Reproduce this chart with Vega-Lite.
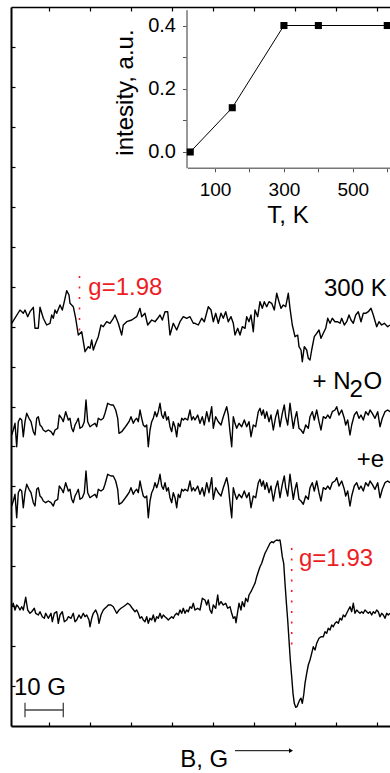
{
  "$schema": "https://vega.github.io/schema/vega-lite/v6.json",
  "width": 379,
  "height": 719,
  "autosize": {"type": "none"},
  "padding": {"left": 11, "top": 7, "right": 0, "bottom": 47},
  "background": "white",
  "config": {"view": {"stroke": null}, "font": "Liberation Sans", "axis": {"grid": false}},
  "datasets": {
    "spectra": [
      {"series":"300 K","B":0.7,"signal":402.7},{"series":"300 K","B":9,"signal":416},{"series":"300 K","B":12.3,"signal":412.7},{"series":"300 K","B":14,"signal":416},{"series":"300 K","B":16.7,"signal":409.3},{"series":"300 K","B":19,"signal":414.3},{"series":"300 K","B":22.3,"signal":418.7},{"series":"300 K","B":24,"signal":397.7},{"series":"300 K","B":27.3,"signal":397.7},{"series":"300 K","B":29,"signal":418.7},{"series":"300 K","B":32.3,"signal":407.7},{"series":"300 K","B":35.7,"signal":401},{"series":"300 K","B":39,"signal":402.7},{"series":"300 K","B":40.7,"signal":411},{"series":"300 K","B":42.3,"signal":407.7},{"series":"300 K","B":44,"signal":416},{"series":"300 K","B":45.7,"signal":412.7},{"series":"300 K","B":49,"signal":421},{"series":"300 K","B":51.3,"signal":416},{"series":"300 K","B":53.3,"signal":424.3},{"series":"300 K","B":55.7,"signal":435.3},{"series":"300 K","B":58,"signal":431},{"series":"300 K","B":59,"signal":422.7},{"series":"300 K","B":62.3,"signal":419.3},{"series":"300 K","B":64.7,"signal":407.7},{"series":"300 K","B":67.3,"signal":391},{"series":"300 K","B":70.7,"signal":394.3},{"series":"300 K","B":74,"signal":374.3},{"series":"300 K","B":77.3,"signal":379.3},{"series":"300 K","B":79,"signal":377.7},{"series":"300 K","B":80.7,"signal":386},{"series":"300 K","B":82.3,"signal":376},{"series":"300 K","B":84.7,"signal":382.7},{"series":"300 K","B":87.3,"signal":389.3},{"series":"300 K","B":90,"signal":401},{"series":"300 K","B":92.3,"signal":399.3},{"series":"300 K","B":95.7,"signal":404.3},{"series":"300 K","B":99,"signal":402.7},{"series":"300 K","B":102.3,"signal":407.7},{"series":"300 K","B":104,"signal":411},{"series":"300 K","B":107.3,"signal":402.7},{"series":"300 K","B":110.7,"signal":391},{"series":"300 K","B":112.3,"signal":401},{"series":"300 K","B":115.7,"signal":404.3},{"series":"300 K","B":120.7,"signal":406},{"series":"300 K","B":125.7,"signal":409.3},{"series":"300 K","B":129,"signal":417.7},{"series":"300 K","B":130.7,"signal":409.3},{"series":"300 K","B":134,"signal":412.7},{"series":"300 K","B":136.7,"signal":401},{"series":"300 K","B":140.7,"signal":406},{"series":"300 K","B":144,"signal":404.3},{"series":"300 K","B":146.7,"signal":407.7},{"series":"300 K","B":149,"signal":411},{"series":"300 K","B":151.3,"signal":406},{"series":"300 K","B":154,"signal":414.3},{"series":"300 K","B":156.7,"signal":414.3},{"series":"300 K","B":159,"signal":391},{"series":"300 K","B":162.3,"signal":402.7},{"series":"300 K","B":165.7,"signal":396},{"series":"300 K","B":169,"signal":404.3},{"series":"300 K","B":172.3,"signal":409.3},{"series":"300 K","B":175.7,"signal":407.7},{"series":"300 K","B":179,"signal":409.3},{"series":"300 K","B":182.3,"signal":402.7},
      {"series":"300 K","B":184,"signal":402.7},{"series":"300 K","B":187.3,"signal":401},{"series":"300 K","B":190.7,"signal":407.7},{"series":"300 K","B":193.3,"signal":404.3},{"series":"300 K","B":197.3,"signal":419.3},{"series":"300 K","B":200,"signal":416},{"series":"300 K","B":202.3,"signal":404.3},{"series":"300 K","B":204.7,"signal":412.7},{"series":"300 K","B":207.3,"signal":402.7},{"series":"300 K","B":210,"signal":412.7},{"series":"300 K","B":212.3,"signal":407.7},{"series":"300 K","B":214.7,"signal":414.3},{"series":"300 K","B":217.3,"signal":404.3},{"series":"300 K","B":220,"signal":409.3},{"series":"300 K","B":222.3,"signal":402.7},{"series":"300 K","B":224,"signal":391},{"series":"300 K","B":226.7,"signal":397.7},{"series":"300 K","B":229,"signal":391},{"series":"300 K","B":231.3,"signal":399.3},{"series":"300 K","B":234,"signal":397.7},{"series":"300 K","B":235.7,"signal":409.3},{"series":"300 K","B":238,"signal":404.3},{"series":"300 K","B":240,"signal":411},{"series":"300 K","B":242.3,"signal":394.3},{"series":"300 K","B":244,"signal":416},{"series":"300 K","B":246.7,"signal":409.3},{"series":"300 K","B":249,"signal":424.3},{"series":"300 K","B":251.3,"signal":417.7},{"series":"300 K","B":253.3,"signal":424.3},{"series":"300 K","B":255.7,"signal":419.3},{"series":"300 K","B":258,"signal":424.3},{"series":"300 K","B":260.7,"signal":422.7},{"series":"300 K","B":263.3,"signal":416},{"series":"300 K","B":265.7,"signal":432.7},{"series":"300 K","B":268,"signal":424.3},{"series":"300 K","B":270,"signal":417.7},{"series":"300 K","B":272.3,"signal":421},{"series":"300 K","B":274.7,"signal":419.3},{"series":"300 K","B":277.3,"signal":432.7},{"series":"300 K","B":279,"signal":417.7},{"series":"300 K","B":281.3,"signal":401},{"series":"300 K","B":284,"signal":389.3},{"series":"300 K","B":286.7,"signal":391},{"series":"300 K","B":288,"signal":379.3},{"series":"300 K","B":290,"signal":376},{"series":"300 K","B":291.3,"signal":364.3},{"series":"300 K","B":293.3,"signal":379.3},{"series":"300 K","B":295.7,"signal":376},{"series":"300 K","B":297.3,"signal":367.7},{"series":"300 K","B":299,"signal":366},{"series":"300 K","B":300.7,"signal":376},{"series":"300 K","B":303.3,"signal":389.3},{"series":"300 K","B":305.7,"signal":392.7},{"series":"300 K","B":308,"signal":396},{"series":"300 K","B":310,"signal":387.7},{"series":"300 K","B":312.3,"signal":392.7},{"series":"300 K","B":314.7,"signal":397.7},{"series":"300 K","B":316.7,"signal":407.7},{"series":"300 K","B":319,"signal":402.7},{"series":"300 K","B":321.3,"signal":407.7},{"series":"300 K","B":324,"signal":404.3},{"series":"300 K","B":326.7,"signal":404.3},{"series":"300 K","B":329,"signal":402.7},{"series":"300 K","B":330.7,"signal":407.7},{"series":"300 K","B":333.3,"signal":401},{"series":"300 K","B":335.7,"signal":404.3},{"series":"300 K","B":338,"signal":411},{"series":"300 K","B":340,"signal":406},{"series":"300 K","B":342.3,"signal":402.7},{"series":"300 K","B":344.7,"signal":411},{"series":"300 K","B":347.3,"signal":414.3},{"series":"300 K","B":350,"signal":404.3},{"series":"300 K","B":352.3,"signal":412.7},{"series":"300 K","B":354.7,"signal":412.7},{"series":"300 K","B":357.3,"signal":414.3},{"series":"300 K","B":360,"signal":417.7},{"series":"300 K","B":362.3,"signal":411},{"series":"300 K","B":365.7,"signal":399.3},{"series":"300 K","B":368,"signal":404.3},{"series":"300 K","B":370.7,"signal":401},{"series":"300 K","B":373.3,"signal":402.7},{"series":"300 K","B":376.7,"signal":399.3},{"series":"300 K","B":379,"signal":401},

      {"series":"N2O","B":0.7,"signal":291},{"series":"N2O","B":2.3,"signal":296},{"series":"N2O","B":4,"signal":302.7},{"series":"N2O","B":5.7,"signal":279.3},{"series":"N2O","B":7.3,"signal":304.3},{"series":"N2O","B":9,"signal":307.7},{"series":"N2O","B":10.7,"signal":306},{"series":"N2O","B":12.3,"signal":289.3},{"series":"N2O","B":14,"signal":304.3},{"series":"N2O","B":15.7,"signal":312.7},{"series":"N2O","B":18,"signal":307.7},{"series":"N2O","B":20,"signal":304.3},{"series":"N2O","B":22.3,"signal":294.3},{"series":"N2O","B":24,"signal":291},{"series":"N2O","B":25.7,"signal":307.7},{"series":"N2O","B":27.3,"signal":309.3},{"series":"N2O","B":29,"signal":301},{"series":"N2O","B":30.7,"signal":299.3},{"series":"N2O","B":32.3,"signal":296},{"series":"N2O","B":34.7,"signal":294.3},{"series":"N2O","B":37.3,"signal":296},{"series":"N2O","B":40,"signal":294.3},{"series":"N2O","B":42.3,"signal":291},{"series":"N2O","B":44,"signal":296},{"series":"N2O","B":46.7,"signal":297.7},{"series":"N2O","B":48.3,"signal":311},{"series":"N2O","B":50.7,"signal":307.7},{"series":"N2O","B":52.3,"signal":304.3},{"series":"N2O","B":54.7,"signal":314.3},{"series":"N2O","B":57.3,"signal":306},{"series":"N2O","B":59,"signal":307.7},{"series":"N2O","B":60.7,"signal":297.7},{"series":"N2O","B":62.3,"signal":294.3},{"series":"N2O","B":64,"signal":301},{"series":"N2O","B":65.7,"signal":304.3},{"series":"N2O","B":67.3,"signal":307.7},{"series":"N2O","B":69,"signal":297.7},{"series":"N2O","B":71.3,"signal":299.3},{"series":"N2O","B":73.3,"signal":304.3},{"series":"N2O","B":75,"signal":326},{"series":"N2O","B":76.7,"signal":304.3},{"series":"N2O","B":79,"signal":299.3},{"series":"N2O","B":81.3,"signal":301},{"series":"N2O","B":84,"signal":302.7},{"series":"N2O","B":85.7,"signal":299.3},{"series":"N2O","B":87.3,"signal":307.7},{"series":"N2O","B":90,"signal":306},{"series":"N2O","B":92.3,"signal":307.7},{"series":"N2O","B":94,"signal":312.7},{"series":"N2O","B":96.7,"signal":322.7},{"series":"N2O","B":100,"signal":321},{"series":"N2O","B":102.3,"signal":321},{"series":"N2O","B":104.7,"signal":316},{"series":"N2O","B":106.7,"signal":307.7},{"series":"N2O","B":108,"signal":292.7},{"series":"N2O","B":110.7,"signal":294.3},{"series":"N2O","B":113.3,"signal":297.7},{"series":"N2O","B":115.7,"signal":301},{"series":"N2O","B":118,"signal":304.3},{"series":"N2O","B":120,"signal":309.3},{"series":"N2O","B":122.3,"signal":302.7},{"series":"N2O","B":124,"signal":306},{"series":"N2O","B":125.7,"signal":307.7},{"series":"N2O","B":127.3,"signal":304.3},{"series":"N2O","B":129,"signal":316},{"series":"N2O","B":130.7,"signal":307.7},{"series":"N2O","B":132.3,"signal":301},{"series":"N2O","B":134,"signal":299.3},{"series":"N2O","B":135.7,"signal":301},{"series":"N2O","B":137.3,"signal":279.3},{"series":"N2O","B":139,"signal":296},{"series":"N2O","B":140.7,"signal":304.3},{"series":"N2O","B":142.3,"signal":307.7},{"series":"N2O","B":144,"signal":314.3},{"series":"N2O","B":145.7,"signal":309.3},{"series":"N2O","B":147.3,"signal":314.3},{"series":"N2O","B":149,"signal":322.7},{"series":"N2O","B":150.7,"signal":311},{"series":"N2O","B":152.3,"signal":307.7},{"series":"N2O","B":154,"signal":314.3},{"series":"N2O","B":155.7,"signal":306},{"series":"N2O","B":157.3,"signal":309.3},{"series":"N2O","B":159,"signal":299.3},{"series":"N2O","B":160.7,"signal":294.3},{"series":"N2O","B":162.3,"signal":304.3},{"series":"N2O","B":164,"signal":299.3},{"series":"N2O","B":165.7,"signal":289.3},{"series":"N2O","B":167.3,"signal":302.7},{"series":"N2O","B":169,"signal":299.3},{"series":"N2O","B":170.7,"signal":307.7},{"series":"N2O","B":172.3,"signal":306},{"series":"N2O","B":174,"signal":307.7},{"series":"N2O","B":176.7,"signal":306},{"series":"N2O","B":179,"signal":316},{"series":"N2O","B":180.7,"signal":306},{"series":"N2O","B":182.3,"signal":309.3},
      {"series":"N2O","B":184,"signal":306},{"series":"N2O","B":186.7,"signal":311},{"series":"N2O","B":189,"signal":302.7},{"series":"N2O","B":191.3,"signal":309.3},{"series":"N2O","B":193.3,"signal":301},{"series":"N2O","B":195.7,"signal":314.3},{"series":"N2O","B":198,"signal":304.3},{"series":"N2O","B":200.7,"signal":319.3},{"series":"N2O","B":202.3,"signal":297.7},{"series":"N2O","B":204.7,"signal":309.3},{"series":"N2O","B":207.3,"signal":304.3},{"series":"N2O","B":210,"signal":301},{"series":"N2O","B":212.3,"signal":309.3},{"series":"N2O","B":215.7,"signal":319.3},{"series":"N2O","B":217.3,"signal":311},{"series":"N2O","B":219,"signal":294.3},{"series":"N2O","B":220.7,"signal":279.3},{"series":"N2O","B":222.3,"signal":309.3},{"series":"N2O","B":224,"signal":302.7},{"series":"N2O","B":225.7,"signal":297.7},{"series":"N2O","B":228,"signal":302.7},{"series":"N2O","B":230.7,"signal":299.3},{"series":"N2O","B":233.3,"signal":306},{"series":"N2O","B":235.7,"signal":299.3},{"series":"N2O","B":238,"signal":304.3},{"series":"N2O","B":240,"signal":289.3},{"series":"N2O","B":242.3,"signal":301},{"series":"N2O","B":244.7,"signal":299.3},{"series":"N2O","B":247.3,"signal":314.3},{"series":"N2O","B":249,"signal":317.7},{"series":"N2O","B":250.7,"signal":311},{"series":"N2O","B":252.3,"signal":316},{"series":"N2O","B":254,"signal":307.7},{"series":"N2O","B":255.7,"signal":314.3},{"series":"N2O","B":258,"signal":304.3},{"series":"N2O","B":260,"signal":311},{"series":"N2O","B":262.3,"signal":296},{"series":"N2O","B":264.7,"signal":309.3},{"series":"N2O","B":266.7,"signal":316},{"series":"N2O","B":269,"signal":299.3},{"series":"N2O","B":271.3,"signal":312.7},{"series":"N2O","B":273.3,"signal":321},{"series":"N2O","B":274.7,"signal":309.3},{"series":"N2O","B":276.7,"signal":301},{"series":"N2O","B":279,"signal":322.7},{"series":"N2O","B":280.7,"signal":309.3},{"series":"N2O","B":282.3,"signal":297.7},{"series":"N2O","B":284,"signal":307.7},{"series":"N2O","B":285.7,"signal":314.3},{"series":"N2O","B":288,"signal":297.7},{"series":"N2O","B":290,"signal":296},{"series":"N2O","B":292.3,"signal":292.7},{"series":"N2O","B":294.7,"signal":301},{"series":"N2O","B":297.3,"signal":297.7},{"series":"N2O","B":299,"signal":309.3},{"series":"N2O","B":301.3,"signal":314.3},{"series":"N2O","B":303.3,"signal":306},{"series":"N2O","B":305.7,"signal":316},{"series":"N2O","B":308,"signal":304.3},{"series":"N2O","B":310,"signal":296},{"series":"N2O","B":312.3,"signal":309.3},{"series":"N2O","B":314.7,"signal":307.7},{"series":"N2O","B":316.7,"signal":311},{"series":"N2O","B":319,"signal":307.7},{"series":"N2O","B":321.3,"signal":314.3},{"series":"N2O","B":324,"signal":316},{"series":"N2O","B":325.7,"signal":319.3},{"series":"N2O","B":328,"signal":311},{"series":"N2O","B":330.7,"signal":316},{"series":"N2O","B":333.3,"signal":307.7},{"series":"N2O","B":334.7,"signal":301},{"series":"N2O","B":336.7,"signal":306},{"series":"N2O","B":339,"signal":291},{"series":"N2O","B":340.7,"signal":301},{"series":"N2O","B":343.3,"signal":311},{"series":"N2O","B":345.7,"signal":314.3},{"series":"N2O","B":348,"signal":307.7},{"series":"N2O","B":350,"signal":311},{"series":"N2O","B":352.3,"signal":306},{"series":"N2O","B":354.7,"signal":314.3},{"series":"N2O","B":357.3,"signal":311},{"series":"N2O","B":359,"signal":316},{"series":"N2O","B":361.3,"signal":312.7},{"series":"N2O","B":364,"signal":307.7},{"series":"N2O","B":366.7,"signal":314.3},{"series":"N2O","B":369,"signal":299.3},{"series":"N2O","B":371.3,"signal":307.7},{"series":"N2O","B":374,"signal":314.3},{"series":"N2O","B":376.7,"signal":316},{"series":"N2O","B":379,"signal":314.3},

      {"series":"+e","B":0.7,"signal":220},{"series":"+e","B":2.3,"signal":225},{"series":"+e","B":4,"signal":231.7},{"series":"+e","B":5.7,"signal":208.3},{"series":"+e","B":7.3,"signal":233.3},{"series":"+e","B":9,"signal":236.7},{"series":"+e","B":10.7,"signal":235},{"series":"+e","B":12.3,"signal":218.3},{"series":"+e","B":14,"signal":233.3},{"series":"+e","B":15.7,"signal":241.7},{"series":"+e","B":18,"signal":236.7},{"series":"+e","B":20,"signal":233.3},{"series":"+e","B":22.3,"signal":223.3},{"series":"+e","B":24,"signal":220},{"series":"+e","B":25.7,"signal":236.7},{"series":"+e","B":27.3,"signal":238.3},{"series":"+e","B":29,"signal":230},{"series":"+e","B":30.7,"signal":228.3},{"series":"+e","B":32.3,"signal":225},{"series":"+e","B":34.7,"signal":223.3},{"series":"+e","B":37.3,"signal":225},{"series":"+e","B":40,"signal":223.3},{"series":"+e","B":42.3,"signal":220},{"series":"+e","B":44,"signal":225},{"series":"+e","B":46.7,"signal":226.7},{"series":"+e","B":48.3,"signal":240},{"series":"+e","B":50.7,"signal":236.7},{"series":"+e","B":52.3,"signal":233.3},{"series":"+e","B":54.7,"signal":243.3},{"series":"+e","B":57.3,"signal":235},{"series":"+e","B":59,"signal":236.7},{"series":"+e","B":60.7,"signal":226.7},{"series":"+e","B":62.3,"signal":223.3},{"series":"+e","B":64,"signal":230},{"series":"+e","B":65.7,"signal":233.3},{"series":"+e","B":67.3,"signal":236.7},{"series":"+e","B":69,"signal":226.7},{"series":"+e","B":71.3,"signal":228.3},{"series":"+e","B":73.3,"signal":233.3},{"series":"+e","B":75,"signal":255},{"series":"+e","B":76.7,"signal":233.3},{"series":"+e","B":79,"signal":228.3},{"series":"+e","B":81.3,"signal":230},{"series":"+e","B":84,"signal":231.7},{"series":"+e","B":85.7,"signal":228.3},{"series":"+e","B":87.3,"signal":236.7},{"series":"+e","B":90,"signal":235},{"series":"+e","B":92.3,"signal":236.7},{"series":"+e","B":94,"signal":241.7},{"series":"+e","B":96.7,"signal":251.7},{"series":"+e","B":100,"signal":250},{"series":"+e","B":102.3,"signal":250},{"series":"+e","B":104.7,"signal":245},{"series":"+e","B":106.7,"signal":236.7},{"series":"+e","B":108,"signal":221.7},{"series":"+e","B":110.7,"signal":223.3},{"series":"+e","B":113.3,"signal":226.7},{"series":"+e","B":115.7,"signal":230},{"series":"+e","B":118,"signal":233.3},{"series":"+e","B":120,"signal":238.3},{"series":"+e","B":122.3,"signal":231.7},{"series":"+e","B":124,"signal":235},{"series":"+e","B":125.7,"signal":236.7},{"series":"+e","B":127.3,"signal":233.3},{"series":"+e","B":129,"signal":245},{"series":"+e","B":130.7,"signal":236.7},{"series":"+e","B":132.3,"signal":230},{"series":"+e","B":134,"signal":228.3},{"series":"+e","B":135.7,"signal":230},{"series":"+e","B":137.3,"signal":208.3},{"series":"+e","B":139,"signal":225},{"series":"+e","B":140.7,"signal":233.3},{"series":"+e","B":142.3,"signal":236.7},{"series":"+e","B":144,"signal":243.3},{"series":"+e","B":145.7,"signal":238.3},{"series":"+e","B":147.3,"signal":243.3},{"series":"+e","B":149,"signal":251.7},{"series":"+e","B":150.7,"signal":240},{"series":"+e","B":152.3,"signal":236.7},{"series":"+e","B":154,"signal":243.3},{"series":"+e","B":155.7,"signal":235},{"series":"+e","B":157.3,"signal":238.3},{"series":"+e","B":159,"signal":228.3},{"series":"+e","B":160.7,"signal":223.3},{"series":"+e","B":162.3,"signal":233.3},{"series":"+e","B":164,"signal":228.3},{"series":"+e","B":165.7,"signal":218.3},{"series":"+e","B":167.3,"signal":231.7},{"series":"+e","B":169,"signal":228.3},{"series":"+e","B":170.7,"signal":236.7},{"series":"+e","B":172.3,"signal":235},{"series":"+e","B":174,"signal":236.7},{"series":"+e","B":176.7,"signal":235},{"series":"+e","B":179,"signal":245},{"series":"+e","B":180.7,"signal":235},{"series":"+e","B":182.3,"signal":238.3},
      {"series":"+e","B":184,"signal":235},{"series":"+e","B":186.7,"signal":240},{"series":"+e","B":189,"signal":231.7},{"series":"+e","B":191.3,"signal":238.3},{"series":"+e","B":193.3,"signal":230},{"series":"+e","B":195.7,"signal":243.3},{"series":"+e","B":198,"signal":233.3},{"series":"+e","B":200.7,"signal":248.3},{"series":"+e","B":202.3,"signal":226.7},{"series":"+e","B":204.7,"signal":238.3},{"series":"+e","B":207.3,"signal":233.3},{"series":"+e","B":210,"signal":230},{"series":"+e","B":212.3,"signal":238.3},{"series":"+e","B":215.7,"signal":248.3},{"series":"+e","B":217.3,"signal":240},{"series":"+e","B":219,"signal":223.3},{"series":"+e","B":220.7,"signal":208.3},{"series":"+e","B":222.3,"signal":238.3},{"series":"+e","B":224,"signal":231.7},{"series":"+e","B":225.7,"signal":226.7},{"series":"+e","B":228,"signal":231.7},{"series":"+e","B":230.7,"signal":228.3},{"series":"+e","B":233.3,"signal":235},{"series":"+e","B":235.7,"signal":228.3},{"series":"+e","B":238,"signal":233.3},{"series":"+e","B":240,"signal":218.3},{"series":"+e","B":242.3,"signal":230},{"series":"+e","B":244.7,"signal":228.3},{"series":"+e","B":247.3,"signal":243.3},{"series":"+e","B":249,"signal":246.7},{"series":"+e","B":250.7,"signal":240},{"series":"+e","B":252.3,"signal":245},{"series":"+e","B":254,"signal":236.7},{"series":"+e","B":255.7,"signal":243.3},{"series":"+e","B":258,"signal":233.3},{"series":"+e","B":260,"signal":240},{"series":"+e","B":262.3,"signal":225},{"series":"+e","B":264.7,"signal":238.3},{"series":"+e","B":266.7,"signal":245},{"series":"+e","B":269,"signal":228.3},{"series":"+e","B":271.3,"signal":241.7},{"series":"+e","B":273.3,"signal":250},{"series":"+e","B":274.7,"signal":238.3},{"series":"+e","B":276.7,"signal":230},{"series":"+e","B":279,"signal":251.7},{"series":"+e","B":280.7,"signal":238.3},{"series":"+e","B":282.3,"signal":226.7},{"series":"+e","B":284,"signal":236.7},{"series":"+e","B":285.7,"signal":243.3},{"series":"+e","B":288,"signal":226.7},{"series":"+e","B":290,"signal":225},{"series":"+e","B":292.3,"signal":221.7},{"series":"+e","B":294.7,"signal":230},{"series":"+e","B":297.3,"signal":226.7},{"series":"+e","B":299,"signal":238.3},{"series":"+e","B":301.3,"signal":243.3},{"series":"+e","B":303.3,"signal":235},{"series":"+e","B":305.7,"signal":245},{"series":"+e","B":308,"signal":233.3},{"series":"+e","B":310,"signal":225},{"series":"+e","B":312.3,"signal":238.3},{"series":"+e","B":314.7,"signal":236.7},{"series":"+e","B":316.7,"signal":240},{"series":"+e","B":319,"signal":236.7},{"series":"+e","B":321.3,"signal":243.3},{"series":"+e","B":324,"signal":245},{"series":"+e","B":325.7,"signal":248.3},{"series":"+e","B":328,"signal":240},{"series":"+e","B":330.7,"signal":245},{"series":"+e","B":333.3,"signal":236.7},{"series":"+e","B":334.7,"signal":230},{"series":"+e","B":336.7,"signal":235},{"series":"+e","B":339,"signal":220},{"series":"+e","B":340.7,"signal":230},{"series":"+e","B":343.3,"signal":240},{"series":"+e","B":345.7,"signal":243.3},{"series":"+e","B":348,"signal":236.7},{"series":"+e","B":350,"signal":240},{"series":"+e","B":352.3,"signal":235},{"series":"+e","B":354.7,"signal":243.3},{"series":"+e","B":357.3,"signal":240},{"series":"+e","B":359,"signal":245},{"series":"+e","B":361.3,"signal":241.7},{"series":"+e","B":364,"signal":236.7},{"series":"+e","B":366.7,"signal":243.3},{"series":"+e","B":369,"signal":228.3},{"series":"+e","B":371.3,"signal":236.7},{"series":"+e","B":374,"signal":243.3},{"series":"+e","B":376.7,"signal":245},{"series":"+e","B":379,"signal":243.3},

      {"series":"reference","B":0.7,"signal":119.3},{"series":"reference","B":2.3,"signal":122.7},{"series":"reference","B":4,"signal":116},{"series":"reference","B":5.7,"signal":121},{"series":"reference","B":7.3,"signal":119.3},{"series":"reference","B":9,"signal":116},{"series":"reference","B":10.7,"signal":119.3},{"series":"reference","B":12.3,"signal":116},{"series":"reference","B":14.7,"signal":128.7},{"series":"reference","B":16.7,"signal":116},{"series":"reference","B":19,"signal":112.7},{"series":"reference","B":20.7,"signal":114.3},{"series":"reference","B":23.3,"signal":117.7},{"series":"reference","B":24.7,"signal":112.7},{"series":"reference","B":27.3,"signal":111},{"series":"reference","B":29,"signal":114.3},{"series":"reference","B":31.3,"signal":109.3},{"series":"reference","B":33.3,"signal":107.7},{"series":"reference","B":34.7,"signal":112.7},{"series":"reference","B":37.3,"signal":107.7},{"series":"reference","B":40,"signal":112.7},{"series":"reference","B":41.3,"signal":104.3},{"series":"reference","B":43.3,"signal":112.7},{"series":"reference","B":45.7,"signal":114.3},{"series":"reference","B":47.3,"signal":102.7},{"series":"reference","B":49,"signal":111},{"series":"reference","B":51.3,"signal":114.3},{"series":"reference","B":53.3,"signal":104.3},{"series":"reference","B":55.7,"signal":106},{"series":"reference","B":57.3,"signal":109.3},{"series":"reference","B":60,"signal":107.7},{"series":"reference","B":62.3,"signal":112.7},{"series":"reference","B":64,"signal":104.3},{"series":"reference","B":65.7,"signal":106},{"series":"reference","B":68,"signal":111},{"series":"reference","B":70,"signal":107.7},{"series":"reference","B":72.3,"signal":112.7},{"series":"reference","B":74,"signal":109.3},{"series":"reference","B":75.7,"signal":111},{"series":"reference","B":78,"signal":106},{"series":"reference","B":79,"signal":99.3},{"series":"reference","B":80.7,"signal":107.7},{"series":"reference","B":82.3,"signal":112.7},{"series":"reference","B":84.7,"signal":116},{"series":"reference","B":86.7,"signal":111},{"series":"reference","B":88,"signal":102.7},{"series":"reference","B":90,"signal":111},{"series":"reference","B":92.3,"signal":116},{"series":"reference","B":94,"signal":117.7},{"series":"reference","B":95.7,"signal":119.3},{"series":"reference","B":97.3,"signal":121},{"series":"reference","B":100,"signal":121},{"series":"reference","B":102.3,"signal":119.3},{"series":"reference","B":104,"signal":116},{"series":"reference","B":105.7,"signal":112.7},{"series":"reference","B":108,"signal":116},{"series":"reference","B":110,"signal":117.7},{"series":"reference","B":112.3,"signal":119.3},{"series":"reference","B":114.7,"signal":121},{"series":"reference","B":116.7,"signal":122.7},{"series":"reference","B":119,"signal":121},{"series":"reference","B":121.3,"signal":117.7},{"series":"reference","B":124,"signal":114.3},{"series":"reference","B":125.7,"signal":116},{"series":"reference","B":127.3,"signal":112.7},{"series":"reference","B":129,"signal":107.7},{"series":"reference","B":130.7,"signal":109.3},{"series":"reference","B":132.3,"signal":106},{"series":"reference","B":134,"signal":104.3},{"series":"reference","B":135.7,"signal":109.3},{"series":"reference","B":137.3,"signal":102.7},{"series":"reference","B":139,"signal":107.7},{"series":"reference","B":140.7,"signal":106},{"series":"reference","B":142.3,"signal":111},{"series":"reference","B":144,"signal":104.3},{"series":"reference","B":145.7,"signal":109.3},{"series":"reference","B":147.3,"signal":107.7},{"series":"reference","B":149,"signal":112.7},{"series":"reference","B":150.7,"signal":107.7},{"series":"reference","B":152.3,"signal":111},{"series":"reference","B":154,"signal":109.3},{"series":"reference","B":155.7,"signal":107.7},{"series":"reference","B":157.3,"signal":106},{"series":"reference","B":159,"signal":107.7},{"series":"reference","B":160.7,"signal":109.3},{"series":"reference","B":162.3,"signal":107.7},{"series":"reference","B":164,"signal":111},{"series":"reference","B":165.7,"signal":112.7},{"series":"reference","B":167.3,"signal":111},{"series":"reference","B":169,"signal":116},{"series":"reference","B":170.7,"signal":112.7},{"series":"reference","B":172.3,"signal":117.7},{"series":"reference","B":174,"signal":112.7},{"series":"reference","B":175.7,"signal":116},{"series":"reference","B":177.3,"signal":114.3},{"series":"reference","B":179,"signal":119.3},{"series":"reference","B":180.7,"signal":117.7},{"series":"reference","B":182.3,"signal":122.7},
      {"series":"reference","B":184,"signal":116},{"series":"reference","B":186.7,"signal":117.7},{"series":"reference","B":189,"signal":116},{"series":"reference","B":191.3,"signal":127.7},{"series":"reference","B":194,"signal":126},{"series":"reference","B":195.7,"signal":121},{"series":"reference","B":197.3,"signal":126},{"series":"reference","B":199,"signal":116},{"series":"reference","B":200.7,"signal":112.7},{"series":"reference","B":202.3,"signal":121},{"series":"reference","B":204.7,"signal":117.7},{"series":"reference","B":206.7,"signal":131},{"series":"reference","B":208,"signal":121},{"series":"reference","B":210,"signal":124.3},{"series":"reference","B":212.3,"signal":121},{"series":"reference","B":214.7,"signal":122.7},{"series":"reference","B":216.7,"signal":117.7},{"series":"reference","B":219,"signal":119.3},{"series":"reference","B":220.7,"signal":112.7},{"series":"reference","B":222.3,"signal":107.7},{"series":"reference","B":224,"signal":109.3},{"series":"reference","B":225,"signal":103.3},{"series":"reference","B":226.7,"signal":114.3},{"series":"reference","B":228,"signal":122.7},{"series":"reference","B":230,"signal":116},{"series":"reference","B":231.3,"signal":124.3},{"series":"reference","B":233.3,"signal":119.3},{"series":"reference","B":234.7,"signal":127.7},{"series":"reference","B":236.7,"signal":124.3},{"series":"reference","B":238,"signal":131},{"series":"reference","B":240,"signal":134.3},{"series":"reference","B":242.3,"signal":139.3},{"series":"reference","B":244,"signal":142.7},{"series":"reference","B":245.7,"signal":149.3},{"series":"reference","B":247.3,"signal":154.3},{"series":"reference","B":249,"signal":159.3},{"series":"reference","B":250.7,"signal":162.7},{"series":"reference","B":252.3,"signal":167.7},{"series":"reference","B":254,"signal":172.7},{"series":"reference","B":255.7,"signal":176},{"series":"reference","B":257.3,"signal":179.3},{"series":"reference","B":259,"signal":182.7},{"series":"reference","B":260.7,"signal":184.3},{"series":"reference","B":262.3,"signal":183.3},{"series":"reference","B":264,"signal":185},{"series":"reference","B":265.7,"signal":186},{"series":"reference","B":267.3,"signal":185.3},{"series":"reference","B":269,"signal":186},{"series":"reference","B":270,"signal":179.3},{"series":"reference","B":271.3,"signal":169.3},{"series":"reference","B":272.7,"signal":162.7},{"series":"reference","B":274,"signal":142.7},{"series":"reference","B":275.3,"signal":124.3},{"series":"reference","B":276.7,"signal":106},{"series":"reference","B":278,"signal":86},{"series":"reference","B":279.3,"signal":66},{"series":"reference","B":280.7,"signal":49.3},{"series":"reference","B":282,"signal":32.7},{"series":"reference","B":283.3,"signal":22.7},{"series":"reference","B":284.7,"signal":18.7},{"series":"reference","B":286,"signal":19.3},{"series":"reference","B":287.3,"signal":22.7},{"series":"reference","B":288.7,"signal":26},{"series":"reference","B":290,"signal":27.7},{"series":"reference","B":291.3,"signal":22.7},{"series":"reference","B":292.7,"signal":31},{"series":"reference","B":294,"signal":42.7},{"series":"reference","B":295.7,"signal":52.7},{"series":"reference","B":297.3,"signal":61},{"series":"reference","B":299,"signal":66},{"series":"reference","B":300.7,"signal":72.7},{"series":"reference","B":302.3,"signal":79.3},{"series":"reference","B":304,"signal":76},{"series":"reference","B":305.7,"signal":82.7},{"series":"reference","B":308,"signal":87.7},{"series":"reference","B":310,"signal":89.3},{"series":"reference","B":312.3,"signal":89.3},{"series":"reference","B":314,"signal":94.3},{"series":"reference","B":315.7,"signal":92.7},{"series":"reference","B":317.3,"signal":97.7},{"series":"reference","B":319,"signal":96},{"series":"reference","B":320.7,"signal":101},{"series":"reference","B":322.3,"signal":99.3},{"series":"reference","B":324,"signal":102.7},{"series":"reference","B":325.7,"signal":104.3},{"series":"reference","B":327.3,"signal":102.7},{"series":"reference","B":329,"signal":107.7},{"series":"reference","B":330.7,"signal":106},{"series":"reference","B":332.3,"signal":111},{"series":"reference","B":334,"signal":109.3},{"series":"reference","B":335.7,"signal":112.7},{"series":"reference","B":337.3,"signal":116},{"series":"reference","B":339,"signal":119.3},{"series":"reference","B":340.7,"signal":114.3},{"series":"reference","B":342.3,"signal":122.7},{"series":"reference","B":344,"signal":112.7},{"series":"reference","B":345.7,"signal":116},{"series":"reference","B":347.3,"signal":114.3},{"series":"reference","B":349,"signal":112.7},{"series":"reference","B":350.7,"signal":114.3},{"series":"reference","B":352.3,"signal":112.7},{"series":"reference","B":354,"signal":116},{"series":"reference","B":355.7,"signal":114.3},{"series":"reference","B":357.3,"signal":112.7},{"series":"reference","B":359,"signal":114.3},{"series":"reference","B":360.7,"signal":111},{"series":"reference","B":362.3,"signal":114.3},{"series":"reference","B":364,"signal":112.7},{"series":"reference","B":365.7,"signal":116},{"series":"reference","B":367.3,"signal":114.3},{"series":"reference","B":369,"signal":109.3},{"series":"reference","B":370.7,"signal":112.7},{"series":"reference","B":372.3,"signal":111},{"series":"reference","B":374,"signal":107.7},{"series":"reference","B":375.7,"signal":112.7},{"series":"reference","B":377.3,"signal":111},{"series":"reference","B":379,"signal":112.7}
    ],
    "inset": [
      {"T": 28, "I": 0},
      {"T": 150, "I": 0.14},
      {"T": 300, "I": 0.4},
      {"T": 400, "I": 0.4},
      {"T": 600, "I": 0.4}
    ]
  },
  "layer": [
    {
      "encoding": {
        "x": {
          "field": "B", "type": "quantitative",
          "scale": {"domain": [0, 379], "nice": false, "zero": false},
          "axis": {
            "orient": "bottom",
            "values": [38.3, 79.2, 120.1, 161, 201.9, 242.8, 283.7, 324.6, 365.5],
            "labels": false, "tickSize": -4, "tickWidth": 1.2, "tickColor": "black",
            "domainColor": "black", "domainWidth": 2,
            "title": "B, G", "titleX": 168.7, "titleY": 40, "titleAlign": "left", "titleBaseline": "alphabetic",
            "titleFontSize": 24, "titleFontWeight": "normal", "titleColor": "black", "titleFont": "Liberation Sans"
          }
        },
        "y": {
          "field": "signal", "type": "quantitative",
          "scale": {"domain": [0, 719], "nice": false, "zero": false},
          "axis": {
            "orient": "left",
            "values": [39.9, 79.9, 119.8, 159.8, 199.7, 239.6, 279.6, 319.5, 359.5, 399.4, 439.3, 479.3, 519.2, 559.2, 599.1, 639, 679],
            "labels": false, "tickSize": -4, "tickWidth": 1.2, "tickColor": "black",
            "domainColor": "black", "domainWidth": 2, "title": null
          }
        }
      },
      "layer": [
        {
          "data": {"name": "spectra"},
          "mark": {"type": "line", "color": "black", "strokeWidth": 1.4, "strokeJoin": "round"},
          "encoding": {"detail": {"field": "series", "type": "nominal"}}
        },
        {
          "data": {"values": [
            {"B": 68.5, "signal": 450, "signal2": 395},
            {"B": 280.7, "signal": 178, "signal2": 80}
          ]},
          "mark": {"type": "rule", "color": "#ee1c25", "strokeWidth": 1.6, "strokeDash": [2, 8.5]},
          "encoding": {"y2": {"field": "signal2"}}
        },
        {
          "data": {"values": [
            {"B": 77.3, "signal": 431, "label": "g=1.98"},
            {"B": 288, "signal": 160, "label": "g=1.93"}
          ]},
          "mark": {"type": "text", "align": "left", "baseline": "alphabetic", "fontSize": 24, "color": "#ee1c25", "font": "Liberation Sans"},
          "encoding": {"text": {"field": "label", "type": "nominal"}}
        },
        {
          "data": {"values": [
            {"B": 313, "signal": 430, "label": "300 K"},
            {"B": 338.5, "signal": 328.7, "label": "2"},
            {"B": 352.5, "signal": 336.7, "label": "O"},
            {"B": 345.8, "signal": 259.3, "label": "+e"},
            {"B": 3, "signal": 31, "label": "10 G"}
          ]},
          "mark": {"type": "text", "align": "left", "baseline": "alphabetic", "fontSize": 24, "color": "black", "font": "Liberation Sans"},
          "encoding": {"text": {"field": "label", "type": "nominal"}}
        },
        {
          "data": {"values": [
            {"B": 339.5, "signal": 336.7, "label": "+ N"}
          ]},
          "mark": {"type": "text", "align": "right", "baseline": "alphabetic", "fontSize": 24, "color": "black", "font": "Liberation Sans"},
          "encoding": {"text": {"field": "label", "type": "nominal"}}
        },
        {
          "data": {"values": [
            {"B": 14, "B2": 52.3, "signal": 16, "signal2": 16},
            {"B": 14, "B2": 14, "signal": 8.7, "signal2": 23.3},
            {"B": 52.3, "B2": 52.3, "signal": 8.7, "signal2": 23.3}
          ]},
          "mark": {"type": "rule", "color": "#444444", "strokeWidth": 1.3},
          "encoding": {"x2": {"field": "B2"}, "y2": {"field": "signal2"}}
        },
        {
          "data": {"values": [
            {"B": 224, "B2": 278, "signal": -24.7, "signal2": -24.7}
          ]},
          "mark": {"type": "rule", "color": "black", "strokeWidth": 1},
          "encoding": {"x2": {"field": "B2"}, "y2": {"field": "signal2"}}
        },
        {
          "data": {"values": [
            {"B": 280, "signal": -24.7}
          ]},
          "mark": {"type": "point", "shape": "triangle-right", "filled": true, "size": 22, "color": "black", "opacity": 1}
        }
      ]
    },
    {
      "data": {"values": [{"B": 0}, {"B": 379}]},
      "mark": {"type": "rule", "opacity": 0},
      "encoding": {
        "x": {
          "field": "B", "type": "quantitative",
          "scale": {"domain": [0, 379], "nice": false, "zero": false},
          "axis": {
            "orient": "top",
            "values": [38.3, 79.2, 120.1, 161, 201.9, 242.8, 283.7, 324.6, 365.5],
            "labels": false, "tickSize": -4, "tickWidth": 1.2, "tickColor": "black",
            "domainColor": "black", "domainWidth": 1.6, "title": null
          }
        }
      }
    },
    {
      "data": {"name": "inset"},
      "encoding": {
        "x": {
          "field": "T", "type": "quantitative",
          "scale": {"domain": [20, 608], "range": [176.5, 379], "nice": false, "zero": false},
          "axis": {
            "orient": "bottom", "offset": -558.2,
            "values": [100, 200, 300, 400, 500, 600],
            "labelExpr": "datum.value == 100 || datum.value == 300 || datum.value == 500 ? datum.label : ''",
            "labelFontSize": 19, "labelColor": "black", "labelFont": "Liberation Sans", "labelPadding": 9,
            "labelFlush": false, "labelOverlap": false,
            "tickSize": 4, "tickWidth": 1, "tickColor": "#555555",
            "domainColor": "#777777", "domainWidth": 1.5,
            "title": "T, K", "titleX": 276.5, "titleY": 54.9, "titleAlign": "center", "titleBaseline": "alphabetic",
            "titleFontSize": 24, "titleFontWeight": "normal", "titleColor": "black", "titleFont": "Liberation Sans"
          }
        },
        "y": {
          "field": "I", "type": "quantitative",
          "scale": {"domain": [-0.05, 0.45], "range": [160.8, 2.7], "nice": false, "zero": false},
          "axis": {
            "orient": "left", "offset": -175.5,
            "values": [0, 0.1, 0.2, 0.3, 0.4], "format": ".1f",
            "labelExpr": "datum.label == '0.0' || datum.label == '0.2' || datum.label == '0.4' ? datum.label : ''",
            "labelFontSize": 20, "labelColor": "black", "labelFont": "Liberation Sans", "labelPadding": 7,
            "labelFlush": false, "labelOverlap": false,
            "tickSize": 4, "tickWidth": 1, "tickColor": "#555555",
            "domainColor": "#777777", "domainWidth": 1.5,
            "title": "intesity, a.u.", "titleX": -54, "titleY": 85, "titleAngle": 270, "titleAlign": "center", "titleBaseline": "alphabetic",
            "titleFontSize": 24, "titleFontWeight": "normal", "titleColor": "black", "titleFont": "Liberation Sans"
          }
        }
      },
      "layer": [
        {"mark": {"type": "line", "color": "black", "strokeWidth": 1}},
        {"mark": {"type": "point", "shape": "square", "filled": true, "size": 50, "color": "black", "opacity": 1}}
      ]
    }
  ],
  "resolve": {
    "scale": {"x": "independent", "y": "independent"},
    "axis": {"x": "independent", "y": "independent"}
  }
}
